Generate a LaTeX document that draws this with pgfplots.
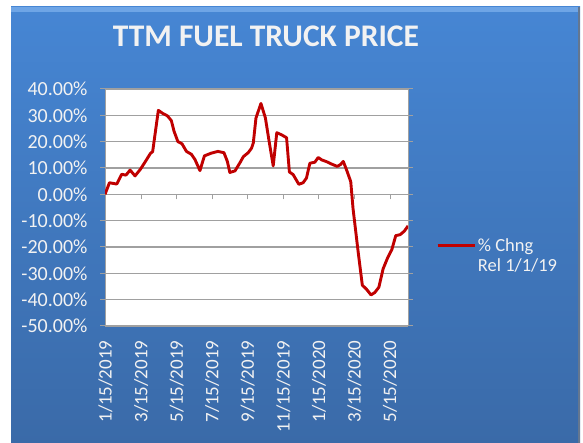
\documentclass[border=0pt]{standalone}
\usepackage{fontspec}
\setmainfont{Carlito}
\usepackage{pgfplots}
\pgfplotsset{compat=1.18}
\definecolor{bgtop}{RGB}{70,134,212}
\definecolor{bgbot}{RGB}{58,106,168}
\definecolor{bghi}{RGB}{110,165,230}
\definecolor{linered}{RGB}{192,0,0}
\definecolor{gridgray}{RGB}{160,160,160}
\definecolor{txt}{RGB}{242,242,242}

\begin{document}
\begin{tikzpicture}[x=1bp,y=1bp]
\useasboundingbox (0,0) rectangle (583,443);
\fill[white] (0,0) rectangle (583,443);
\shade[top color=bgtop, bottom color=bgbot] (11,0) rectangle (580,436);
\fill[bghi] (11,431) rectangle (580,436);
\fill[gray!60!bgbot] (578,0) rectangle (580,436);

% frame, grid, tick labels, title
\begin{axis}[
  at={(105bp,117bp)}, anchor=south west,
  width=303bp, height=237bp, scale only axis,
  xmin=-0.03, xmax=17.01, ymin=-50, ymax=40,
  axis background/.style={fill=white},
  axis line style={gridgray, line width=1bp},
  ytick={-50,-40,...,40},
  yticklabels={-50.00\%,-40.00\%,-30.00\%,-20.00\%,-10.00\%,0.00\%,10.00\%,20.00\%,30.00\%,40.00\%},
  xtick={0,2,...,16},
  xticklabels={1/15/2019,3/15/2019,5/15/2019,7/15/2019,9/15/2019,11/15/2019,1/15/2020,3/15/2020,5/15/2020},
  x tick label style={rotate=90, anchor=east},
  xticklabel shift=6bp,
  yticklabel shift=9bp,
  ymajorgrids, major grid style={gridgray, line width=1.2bp},
  xtick style={draw=none},
  ytick style={gridgray, line width=1bp},
  tick align=outside, major tick length=5bp,
  ticklabel style={font=\fontsize{19bp}{21bp}\selectfont, text=txt},
  y tick label style={font=\fontsize{20bp}{22bp}\selectfont},
  title={TTM FUEL TRUCK PRICE},
  title style={at={(0.531,1.196)}, anchor=center, font=\bfseries\fontsize{31.5bp}{34bp}\selectfont, text=txt},
]
\end{axis}

% zero line ticks and data
\begin{axis}[
  at={(105bp,117bp)}, anchor=south west,
  width=303bp, height=237bp, scale only axis,
  xmin=-0.03, xmax=17.01, ymin=-50, ymax=40,
  axis x line=middle, axis y line=none,
  axis line style={-, gridgray, line width=1.2bp},
  xtick={2,4,...,16}, xticklabels={},
  ytick=\empty,
  tick align=outside, major tick length=5bp,
  xtick style={gridgray, line width=1bp},
  legend image code/.code={\draw[#1] (0bp,0bp) -- (37bp,0bp);},
  legend cell align=left,
  legend style={draw=none, fill=none, at={(1.092,0.296)}, anchor=west,
    font=\fontsize{18.5bp}{20bp}\selectfont, text=txt, inner sep=0pt,
    row sep=2.5bp},
]
\addplot[linered, line width=2.9bp, line join=round] coordinates {
(-0.03,0.0) (0.22,4.4) (0.63,3.9) (0.91,7.6) (1.15,7.3) (1.38,9.2) (1.66,7.0)
(1.97,9.6) (2.31,13.2) (2.53,15.6) (2.65,16.2) (2.97,31.9) (3.20,30.8) (3.48,29.8)
(3.70,28.0) (3.85,24.0) (4.07,20.0) (4.30,19.2) (4.55,16.3) (4.83,15.2) (5.03,13.2)
(5.31,9.0) (5.56,14.6) (5.93,15.6) (6.32,16.3) (6.66,15.8) (6.85,12.5) (6.99,8.3)
(7.28,8.9) (7.56,12.0) (7.75,14.3) (8.02,15.8) (8.21,17.5) (8.31,19.5) (8.46,29.0)
(8.74,34.5) (8.99,29.0) (9.20,20.1) (9.43,10.8) (9.63,23.4) (9.90,22.6) (10.18,21.5)
(10.34,8.5) (10.55,7.5) (10.87,3.8) (11.11,4.4) (11.30,6.2) (11.49,11.8) (11.77,12.2)
(11.96,14.0) (12.15,13.1) (12.43,12.4) (12.71,11.5) (13.03,10.6) (13.21,11.3) (13.37,12.5)
(13.57,9.0) (13.79,4.8) (13.92,-5.5) (14.20,-21.5) (14.44,-34.5) (14.67,-36.0) (14.93,-38.2)
(15.14,-37.3) (15.37,-35.3) (15.61,-28.3) (15.87,-24.0) (16.10,-21.0) (16.32,-15.7)
(16.57,-15.3) (16.80,-14.0) (17.01,-12.0)
};
\addlegendentry{\% Chng}
\addlegendimage{empty legend}
\addlegendentry{Rel 1/1/19}
\end{axis}
\end{tikzpicture}
\end{document}
